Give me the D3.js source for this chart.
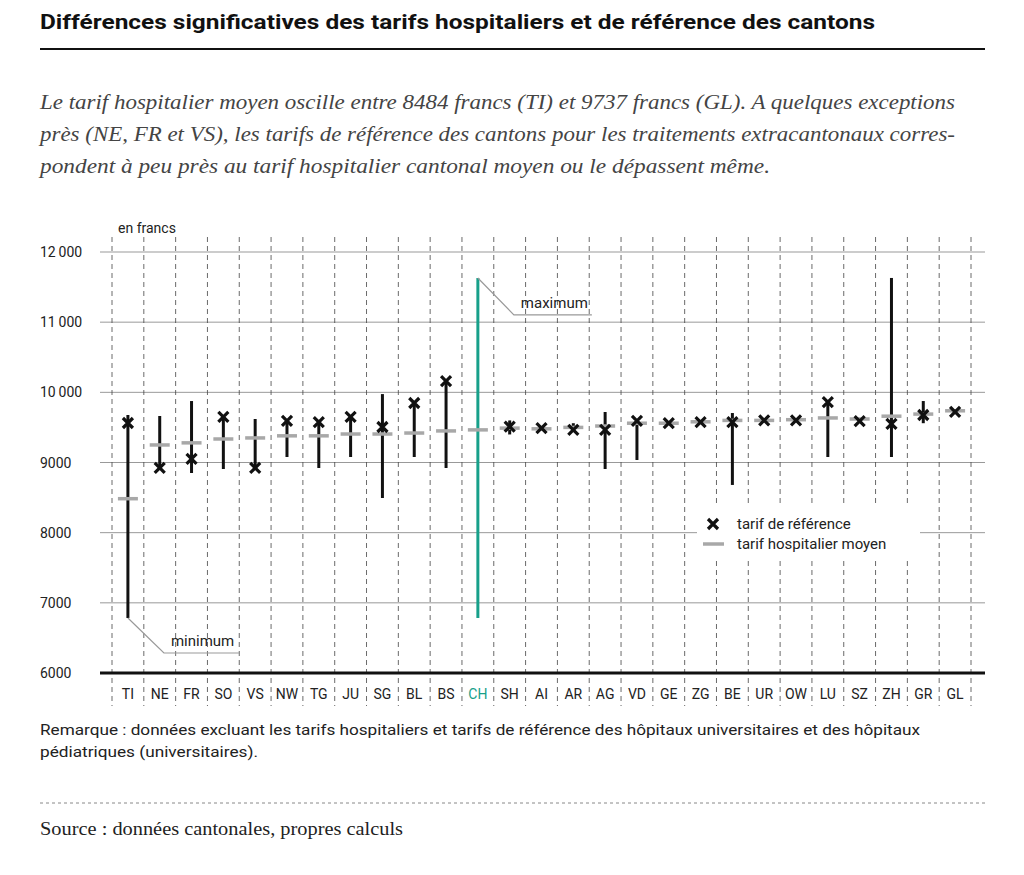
<!DOCTYPE html>
<html><head><meta charset="utf-8">
<script src="https://cdn.jsdelivr.net/npm/d3@7"></script>
<style>body{margin:0;background:#fff}</style>
</head><body>
<svg id="chart" width="1024" height="875"></svg>
<script>
var cantons = ["TI","NE","FR","SO","VS","NW","TG","JU","SG","BL","BS","CH","SH","AI","AR","AG","VD","GE","ZG","BE","UR","OW","LU","SZ","ZH","GR","GL"];
var tarifMin = [6784,8907,8850,8907,8922,9078,8922,9078,8494,9078,8922,6784,9400,null,null,8907,9036,null,null,8680,null,null,9078,null,9078,9560,null];
var tarifMax = [9677,9663,9876,9650,9620,9592,9577,9650,9975,9848,10160,11630,9600,null,9560,9720,9592,null,null,9705,null,null,9862,null,11630,9876,null];
var tarifRef = [9563,8922,9050,9650,8922,9592,9577,9650,9506,9848,10160,null,9510,9490,9465,9465,9592,9560,9577,9577,9600,9600,9862,9590,9549,9677,9720];
var tarifMoyen = [8484,9250,9280,9335,9350,9380,9380,9406,9406,9420,9450,9465,9490,9480,9500,9520,9560,9560,9580,9600,9600,9610,9635,9620,9660,9690,9737];
var yTicks = [6000,7000,8000,9000,10000,11000,12000];

var svg = d3.select("#chart");
var teal = "#17a08a";
var fmt = function(d){ return d >= 10000 ? d3.format(",")(d).replace(",", "\u2009") : d; };

// title
svg.append("text").attr("x", 40).attr("y", 29)
  .style("font-family", "Roboto, sans-serif").style("font-weight", "bold")
  .style("font-size", "21px").attr("fill", "#111")
  .attr("textLength", 835).attr("lengthAdjust", "spacingAndGlyphs")
  .text("Différences significatives des tarifs hospitaliers et de référence des cantons");
svg.append("line").attr("x1", 40).attr("x2", 985).attr("y1", 49).attr("y2", 49)
  .attr("stroke", "#111").attr("stroke-width", 2);

var sub = ["Le tarif hospitalier moyen oscille entre 8484 francs (TI) et 9737 francs (GL). A quelques exceptions",
  "près (NE, FR et VS), les tarifs de référence des cantons pour les traitements extracantonaux corres-",
  "pondent à peu près au tarif hospitalier cantonal moyen ou le dépassent même."];
var subLen = [915, 915, 730];
svg.selectAll(".sub").data(sub).enter().append("text")
  .attr("x", 40).attr("y", function(d, i){ return 109 + i * 32; })
  .attr("textLength", function(d, i){ return subLen[i]; }).attr("lengthAdjust", "spacingAndGlyphs")
  .style("font-family", "'Liberation Serif', serif").style("font-style", "italic")
  .style("font-size", "20px").attr("fill", "#444").text(function(d){ return d; });

// scales
var x = d3.scaleBand().domain(cantons).range([112, 971]);
var y = d3.scaleLinear().domain([6000, 12000]).range([673, 252]);

// horizontal grid
svg.selectAll(".grid").data(yTicks.slice(1)).enter().append("line")
  .attr("x1", 100).attr("x2", 985).attr("y1", function(d){ return y(d); }).attr("y2", function(d){ return y(d); })
  .attr("stroke", "#999").attr("stroke-width", 1);

// vertical dashed separators
svg.selectAll(".sep").data(cantons.concat(["end"])).enter().append("line")
  .attr("x1", function(d, i){ return 112 + i * x.step(); }).attr("x2", function(d, i){ return 112 + i * x.step(); })
  .attr("y1", 237).attr("y2", 706)
  .attr("stroke", "#444").attr("stroke-width", 0.8).attr("stroke-dasharray", "5,4");

// y labels
svg.selectAll(".yl").data(yTicks).enter().append("text")
  .attr("x", 40).attr("y", function(d){ return y(d) + 5; })
  .style("font-family", "Roboto, sans-serif").style("font-size", "14px").attr("fill", "#222")
  .text(fmt);
svg.append("text").attr("x", 118).attr("y", 233)
  .style("font-family", "Roboto, sans-serif").style("font-size", "14px").attr("fill", "#222").text("en francs");

// legend background
svg.append("rect").attr("x", 697).attr("y", 503).attr("width", 223).attr("height", 56).attr("fill", "#fff");

// axis
svg.append("line").attr("x1", 100).attr("x2", 985).attr("y1", y(6000)).attr("y2", y(6000))
  .attr("stroke", "#111").attr("stroke-width", 3);
svg.selectAll(".xl").data(cantons).enter().append("text")
  .attr("x", function(d){ return x(d) + x.bandwidth() / 2; }).attr("y", 699)
  .attr("text-anchor", "middle")
  .style("font-family", "Roboto, sans-serif").style("font-size", "14px")
  .attr("fill", function(d){ return d === "CH" ? teal : "#222"; }).text(function(d){ return d; });

var cx = function(i){ return x(cantons[i]) + x.bandwidth() / 2; };

// range lines
svg.selectAll(".rng").data(cantons).enter().filter(function(d, i){ return tarifMin[i] != null || tarifMax[i] != null; })
  .append("line")
  .attr("x1", function(d){ return cx(cantons.indexOf(d)); }).attr("x2", function(d){ return cx(cantons.indexOf(d)); })
  .attr("y1", function(d){ var i = cantons.indexOf(d); return y(tarifMax[i] != null ? tarifMax[i] : tarifMoyen[i]); })
  .attr("y2", function(d){ var i = cantons.indexOf(d); return y(tarifMin[i] != null ? tarifMin[i] : tarifMoyen[i]); })
  .attr("stroke", function(d){ return d === "CH" ? teal : "#111"; })
  .attr("stroke-width", 3);

// mean marks
svg.selectAll(".moy").data(tarifMoyen).enter().append("line")
  .attr("x1", function(d, i){ return cx(i) - 10; }).attr("x2", function(d, i){ return cx(i) + 10; })
  .attr("y1", function(d){ return y(d); }).attr("y2", function(d){ return y(d); })
  .attr("stroke", "#a8a8a8").attr("stroke-width", 3.5);

// reference crosses
var cross = function(sel, cxv, cyv){
  var s = 5;
  sel.append("path").attr("d", "M" + (cxv - s) + "," + (cyv - s) + "L" + (cxv + s) + "," + (cyv + s) +
      "M" + (cxv - s) + "," + (cyv + s) + "L" + (cxv + s) + "," + (cyv - s))
    .attr("stroke", "#111").attr("stroke-width", 3.2).attr("fill", "none");
};
tarifRef.forEach(function(d, i){ if (d != null) cross(svg, cx(i), y(d)); });

// annotations
var ann = function(i, v, dx, dy, len, label){
  var x0 = cx(i), y0 = y(v);
  svg.append("path").attr("d", "M" + x0 + "," + y0 + "L" + (x0 + dx) + "," + (y0 + dy) + "H" + (x0 + dx + len))
    .attr("fill", "none").attr("stroke", "#999").attr("stroke-width", 1.2);
  svg.append("text").attr("x", x0 + dx + 7).attr("y", y0 + dy - 7)
    .style("font-family", "Roboto, sans-serif").style("font-size", "15px").attr("fill", "#222").text(label);
};
ann(0, tarifMin[0], 36, 35, 75, "minimum");
ann(11, tarifMax[11], 36, 37, 78, "maximum");

// legend
cross(svg, 713, 524);
svg.append("line").attr("x1", 703).attr("x2", 724).attr("y1", 544).attr("y2", 544).attr("stroke", "#a8a8a8").attr("stroke-width", 3.5);
svg.selectAll(".lg").data(["tarif de référence", "tarif hospitalier moyen"]).enter().append("text")
  .attr("x", 737).attr("y", function(d, i){ return 529 + i * 20; })
  .style("font-family", "Roboto, sans-serif").style("font-size", "15px").attr("fill", "#222").text(function(d){ return d; });

// notes
var remLen = [880, 218];
svg.selectAll(".rem").data(["Remarque : données excluant les tarifs hospitaliers et tarifs de référence des hôpitaux universitaires et des hôpitaux",
  "pédiatriques (universitaires)."]).enter().append("text")
  .attr("x", 40).attr("y", function(d, i){ return 735 + i * 22; })
  .attr("textLength", function(d, i){ return remLen[i]; }).attr("lengthAdjust", "spacingAndGlyphs")
  .style("font-family", "Roboto, sans-serif").style("font-size", "14.5px").attr("fill", "#222").text(function(d){ return d; });
svg.append("line").attr("x1", 40).attr("x2", 985).attr("y1", 803).attr("y2", 803)
  .attr("stroke", "#888").attr("stroke-dasharray", "3,3");
svg.append("text").attr("x", 40).attr("y", 835)
  .attr("textLength", 363).attr("lengthAdjust", "spacingAndGlyphs")
  .style("font-family", "'Liberation Serif', serif").style("font-size", "18px").attr("fill", "#222")
  .text("Source : données cantonales, propres calculs");
</script>
</body></html>
